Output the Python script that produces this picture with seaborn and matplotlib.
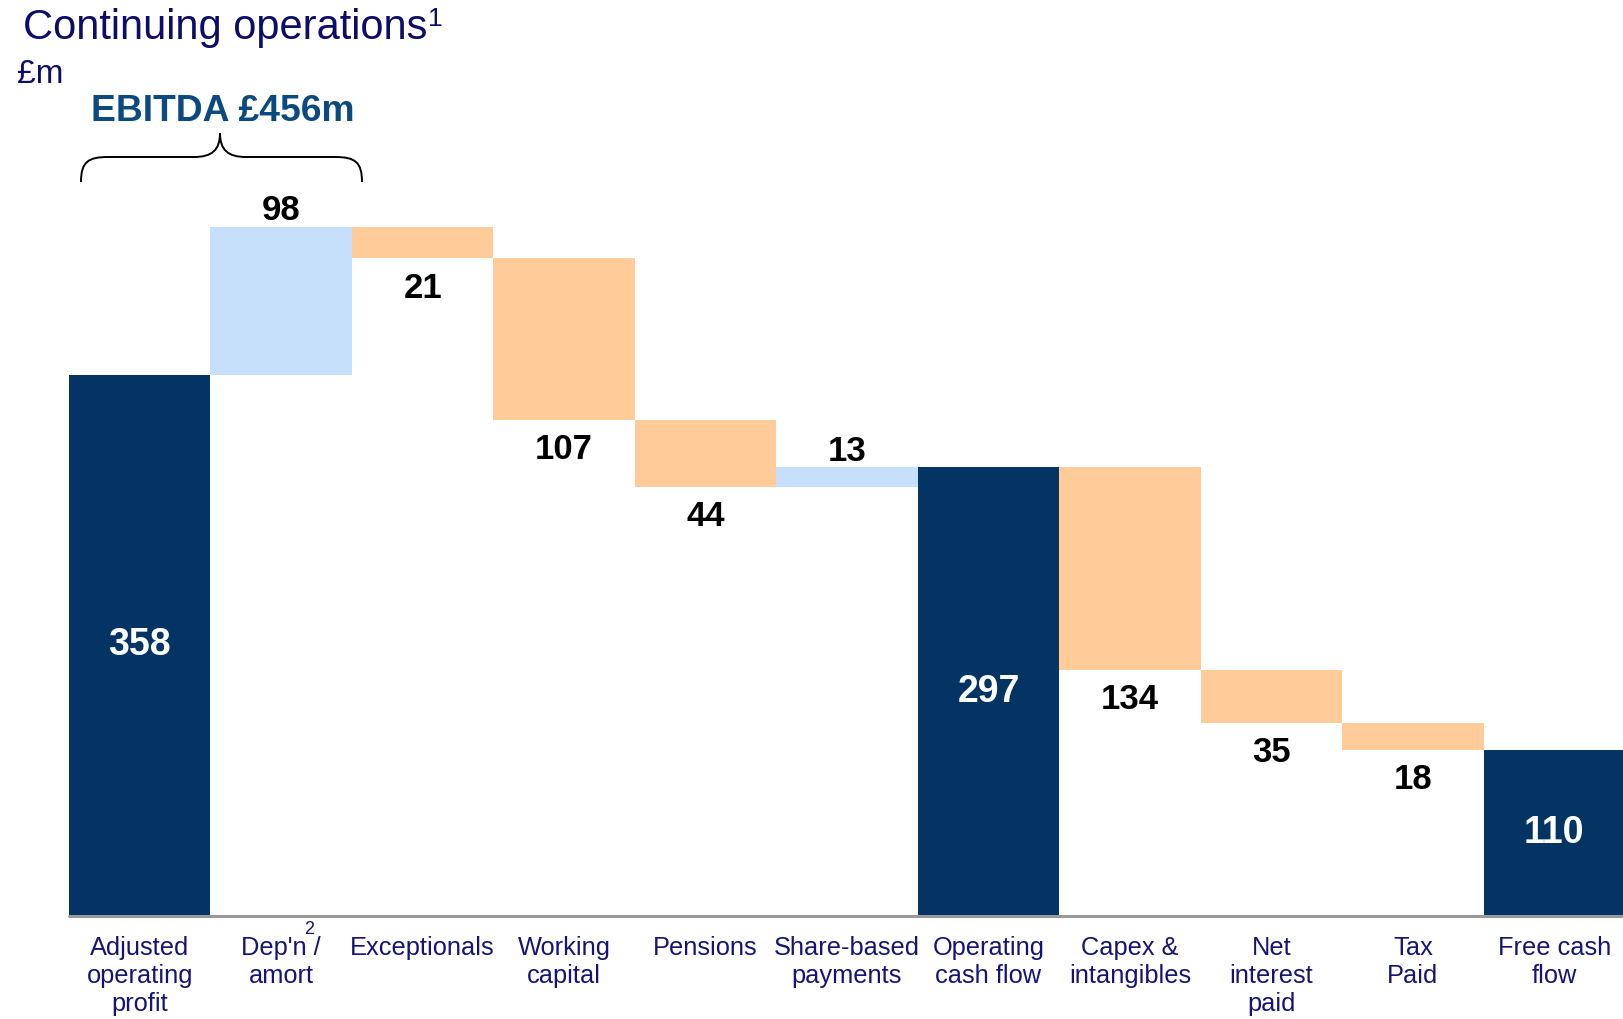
import numpy as np
import pandas as pd
import matplotlib
matplotlib.use("Agg")
import matplotlib.pyplot as plt
from matplotlib.path import Path
from matplotlib.patches import PathPatch
import seaborn as sns

# cash flow bridge, continuing operations (GBP m)
categories = ["Adjusted\noperating\nprofit", "Dep'n /\namort", "Exceptionals",
              "Working\ncapital", "Pensions", "Share-based\npayments",
              "Operating\ncash flow", "Capex &\nintangibles", "Net\ninterest\npaid",
              "Tax\nPaid", "Free cash\nflow"]
values = [358, 98, -21, -107, -44, 13, 297, -134, -35, -18, 110]
kinds = ["total", "delta", "delta", "delta", "delta", "delta",
         "total", "delta", "delta", "delta", "total"]

navy = "#033463"
light_blue = "#C6E0FB"
peach = "#FFCB99"
label_blue = "#141478"
title_blue = "#0C0C6A"

sns.set_style("white")
plt.rcParams["font.family"] = ["Liberation Sans", "DejaVu Sans"]

# work out the floating bar ends
tops, bottoms, colors = [], [], []
running = 0
for v, k in zip(values, kinds):
    if k == "total":
        running = v
        tops.append(v)
        bottoms.append(0)
        colors.append(navy)
    else:
        start = running
        running = running + v
        tops.append(max(start, running))
        bottoms.append(min(start, running))
        colors.append(light_blue if v > 0 else peach)

df = pd.DataFrame({"cat": categories, "top": tops, "bottom": bottoms})
pal = dict(zip(categories, colors))

W, H = 1623, 1019
fig = plt.figure(figsize=(W / 100, H / 100), dpi=100)
ax = fig.add_axes([69 / W, (H - 916) / H, (W - 67) / W, (916 - 130) / H])

sns.barplot(data=df, x="cat", y="top", hue="cat", palette=pal, width=1.0,
            linewidth=0, saturation=1, legend=False, ax=ax)
# white bars hide the part under each floating step
sns.barplot(data=df, x="cat", y="bottom", color="white", width=1.0,
            linewidth=0, saturation=1, ax=ax)

ax.set_xlim(-0.5, len(categories) - 0.5)
ax.set_ylim(0, 520)
ax.set_xlabel("")
ax.set_ylabel("")
ax.set_yticks([])
for s in ["top", "left", "right", "bottom"]:
    ax.spines[s].set_visible(False)
ax.axhline(0, color="#999999", lw=2.2, zorder=5, clip_on=False)

ax.set_xticks(range(len(categories)))
ax.set_xticklabels(categories, va="top", fontsize=18.3, color=label_blue,
                   linespacing=1.22)
ax.tick_params(axis="x", length=0, pad=14.5)
# footnote marker on Dep'n
ax.annotate("2", (1, 0), xytext=(20, -13), textcoords="offset points",
            ha="center", va="baseline", fontsize=13, color=label_blue)

for i, (v, k) in enumerate(zip(values, kinds)):
    if k == "total":
        ax.text(i, tops[i] / 2, str(abs(v)), ha="center", va="center",
                color="white", fontsize=27, fontweight="bold", zorder=6)
    elif v > 0:
        ax.annotate(str(abs(v)), (i, tops[i]), xytext=(0, 4.5), textcoords="offset points",
                    ha="center", va="baseline", fontsize=25, fontweight="bold", color="black")
    else:
        ax.annotate(str(abs(v)), (i, bottoms[i]), xytext=(0, -9.5), textcoords="offset points",
                    ha="center", va="top", fontsize=25, fontweight="bold", color="black")

title = fig.text(23 / W, 1 - 39 / H, "Continuing operations", fontsize=30,
                 color=title_blue, va="baseline")
bb = title.get_window_extent(fig.canvas.get_renderer())
fig.text(bb.x1 / W + 1 / W, 1 - 26 / H, "1", fontsize=19, color=title_blue, va="baseline")
fig.text(17 / W, 1 - 83 / H, "£m", fontsize=24, color=title_blue, va="baseline")
fig.text(223 / W, 1 - 121 / H, "EBITDA £456m", fontsize=26.8, fontweight="bold",
         color="#0B4A80", ha="center", va="baseline")

# curly brace over the first two bars
def px(x, y):
    return (x / W, 1 - y / H)

x0, x1, xm = 81, 362, 220
yb, yl, yc = 182, 157, 133
verts = [px(x0, yb), px(x0, 162), px(88, yl), px(108, yl),
         px(xm - 26, yl),
         px(xm - 8, yl), px(xm, 150), px(xm, yc),
         px(xm, 150), px(xm + 8, yl), px(xm + 26, yl),
         px(x1 - 27, yl),
         px(x1 - 7, yl), px(x1, 162), px(x1, yb)]
codes = [Path.MOVETO, Path.CURVE4, Path.CURVE4, Path.CURVE4,
         Path.LINETO,
         Path.CURVE4, Path.CURVE4, Path.CURVE4,
         Path.CURVE4, Path.CURVE4, Path.CURVE4,
         Path.LINETO,
         Path.CURVE4, Path.CURVE4, Path.CURVE4]
fig.patches.append(PathPatch(Path(verts, codes), transform=fig.transFigure,
                             fill=False, lw=1.4, color="black"))

fig.savefig("out.png", dpi=100, facecolor="white")
